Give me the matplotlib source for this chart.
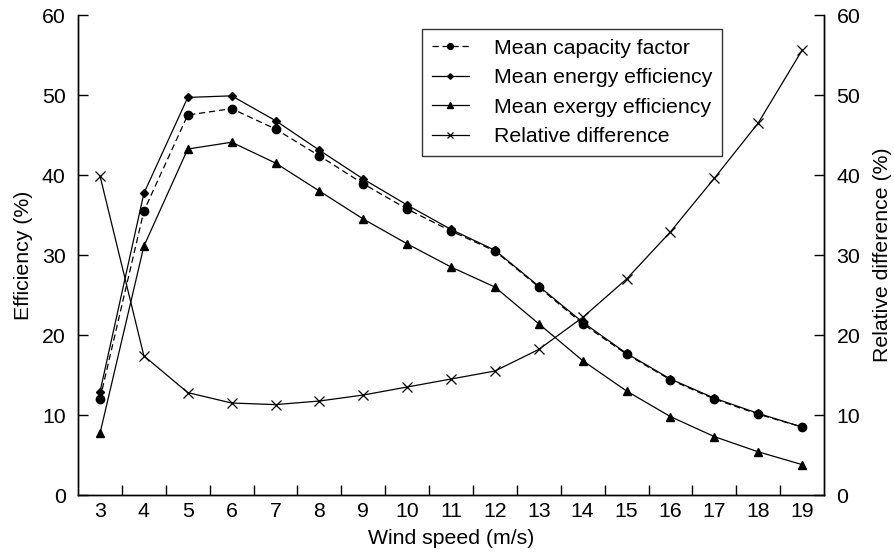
import matplotlib
matplotlib.use("Agg")
import matplotlib.pyplot as plt
from matplotlib.ticker import MultipleLocator, FixedLocator

plt.rcParams['font.family'] = ['Liberation Sans', 'DejaVu Sans']
plt.rcParams['font.size'] = 15.3

wind = [3, 4, 5, 6, 7, 8, 9, 10, 11, 12, 13, 14, 15, 16, 17, 18, 19]
capacity = [12.0, 35.5, 47.5, 48.3, 45.75, 42.4, 38.9, 35.75, 33.0, 30.5, 26.0, 21.4, 17.6, 14.4, 12.0, 10.1, 8.5]
energy = [12.9, 37.7, 49.7, 49.9, 46.8, 43.1, 39.5, 36.25, 33.2, 30.6, 26.1, 21.6, 17.7, 14.5, 12.1, 10.2, 8.5]
exergy = [7.7, 31.1, 43.25, 44.1, 41.5, 38.0, 34.5, 31.4, 28.5, 26.0, 21.4, 16.8, 13.0, 9.8, 7.3, 5.4, 3.8]
reldiff = [39.9, 17.4, 12.8, 11.5, 11.3, 11.75, 12.5, 13.5, 14.5, 15.5, 18.2, 22.2, 27.0, 32.9, 39.6, 46.5, 55.6]

fig = plt.figure(figsize=(8.95, 5.57), dpi=100)
ax = fig.add_axes([0.0872, 0.1113, 0.8335, 0.8617])
ax2 = ax.twinx()

lw = 0.9
l1, = ax.plot(wind, capacity, color='black', lw=lw, ls=(0, (5, 3)), marker='o', ms=6, label='Mean capacity factor')
l2, = ax.plot(wind, energy, color='black', lw=lw, marker='D', ms=4, label='Mean energy efficiency')
l3, = ax.plot(wind, exergy, color='black', lw=lw, marker='^', ms=6, label='Mean exergy efficiency')
l4, = ax2.plot(wind, reldiff, color='black', lw=lw, marker='x', ms=7, mew=0.9, label='Relative difference')

for a in (ax, ax2):
    a.set_ylim(0, 60)
    a.set_xlim(2.5, 19.5)
    a.spines['top'].set_visible(False)
    a.yaxis.set_major_locator(MultipleLocator(10))
    a.tick_params(direction='in', length=7, width=1, pad=9)
    for s in a.spines.values():
        s.set_linewidth(1)

ax.set_xticks(wind)
ax.xaxis.set_minor_locator(FixedLocator([w + 0.5 for w in wind[:-1]]))
ax.tick_params(axis='x', which='major', length=0, pad=5)
ax.tick_params(axis='x', which='minor', direction='in', length=7, width=1)

ax.set_xlabel('Wind speed (m/s)', labelpad=6)
ax.set_ylabel('Efficiency (%)', labelpad=6)
ax2.set_ylabel('Relative difference (%)', labelpad=9)

leg = ax.legend(handles=[l1, l2, l3, l4], loc='upper left',
                bbox_to_anchor=(422 / 895, 1 - 29 / 557), bbox_transform=fig.transFigure,
                borderaxespad=0, frameon=True, fancybox=False, edgecolor='black',
                handlelength=1.75, markerscale=0.7, borderpad=0.45, labelspacing=0.5,
                handletextpad=1.2)
leg.get_frame().set_linewidth(1)

fig.savefig('out.png', dpi=100)
